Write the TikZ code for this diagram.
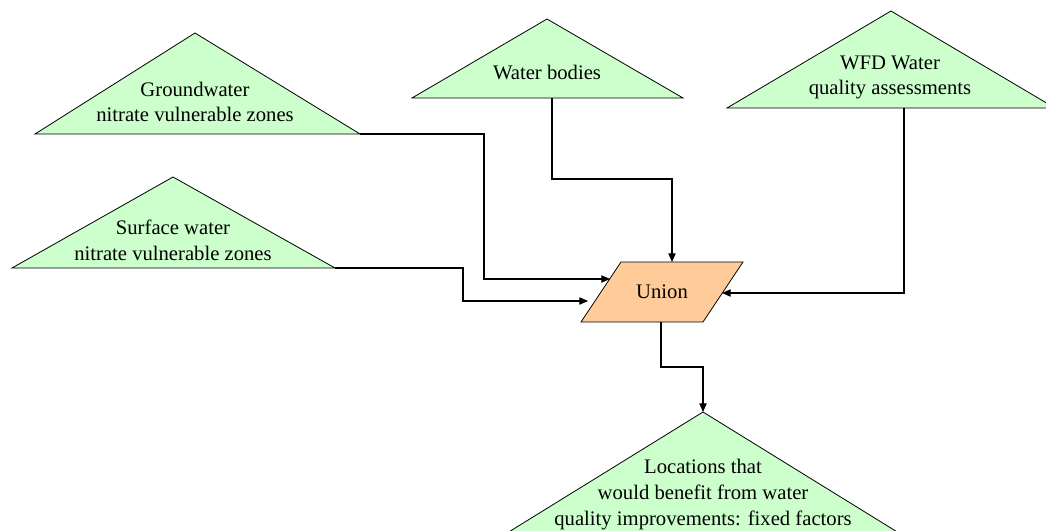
\documentclass[tikz,border=0pt]{standalone}
\usepackage{fontspec}
\setmainfont{Liberation Serif}
\usetikzlibrary{arrows.meta}
\definecolor{datagreen}{HTML}{CCFFCC}
\definecolor{oporange}{HTML}{FFCC99}
\tikzset{
  inputshape/.style={fill=datagreen, draw=black, line width=0.6pt, line join=miter},
  opshape/.style={fill=oporange, draw=black, line width=0.6pt},
  lbl/.style={align=center, inner sep=0pt, font=\fontsize{15.5}{19.2}\selectfont},
  flow/.style={draw=black, line width=0.8pt, -{Triangle[length=6.5pt,width=5.5pt]}},
}
\begin{document}
\begin{tikzpicture}[x=0.75pt, y=-0.75pt]
\useasboundingbox (0,0) rectangle (1046,531);
\clip (0,0) rectangle (1046,531);

% input layers (triangles)
\coordinate (gwL) at (35,134);  \coordinate (gwT) at (195,33);  \coordinate (gwR) at (360,134);
\coordinate (wbL) at (412,98);  \coordinate (wbT) at (547,19);  \coordinate (wbR) at (683,98);
\coordinate (wfL) at (727,108); \coordinate (wfT) at (891,11);  \coordinate (wfR) at (1055,108);
\coordinate (swL) at (12,268);  \coordinate (swT) at (173,177); \coordinate (swR) at (335,268);
\coordinate (loL) at (499,538); \coordinate (loT) at (703,412); \coordinate (loR) at (907,538);

\path[inputshape] (gwL) -- (gwT) -- (gwR) -- cycle;
\path[inputshape] (wbL) -- (wbT) -- (wbR) -- cycle;
\path[inputshape] (wfL) -- (wfT) -- (wfR) -- cycle;
\path[inputshape] (swL) -- (swT) -- (swR) -- cycle;
\path[inputshape] (loL) -- (loT) -- (loR) -- cycle;

\node[lbl] (gw) at (195,102) {Groundwater\\nitrate vulnerable zones};
\node[lbl] (wb) at (547,72) {Water bodies};
\node[lbl] (wf) at (890,77.5) {WFD Water\\quality assessments};
\node[lbl] (sw) at (173,240.5) {Surface water\\nitrate vulnerable zones};
\node[lbl] (lo) at (703,494.5) {Locations that\\would benefit from water\\quality improvements: fixed factors};

% union operation (parallelogram)
\coordinate (unBL) at (581,322); \coordinate (unTL) at (621,262);
\coordinate (unTR) at (743,262); \coordinate (unBR) at (703,322);
\path[opshape] (unBL) -- (unTL) -- (unTR) -- (unBR) -- cycle;
\node[lbl] (un) at (662,292) {Union};

% connector end points
\coordinate (gwOut) at (360,134);
\coordinate (swOut) at (335,268);
\coordinate (wbOut) at (552,98);
\coordinate (wfOut) at (904,108);
\coordinate (unOut) at (661,322);
\coordinate (unInGW) at (610,279);
\coordinate (unInSW) at (588,301);
\coordinate (unInWB) at (672,262);
\coordinate (unInWF) at (722,293);

% connectors
\draw[flow] (gwOut) -- (484,134) -- (484,279) -- (unInGW);
\draw[flow] (swOut) -- (463,268) -- (463,301) -- (unInSW);
\draw[flow] (wbOut) -- (552,179) -- (672,179) -- (unInWB);
\draw[flow] (wfOut) -- (904,293) -- (unInWF);
\draw[flow] (unOut) -- (661,367) -- (703,367) -- (loT);
\end{tikzpicture}
\end{document}
